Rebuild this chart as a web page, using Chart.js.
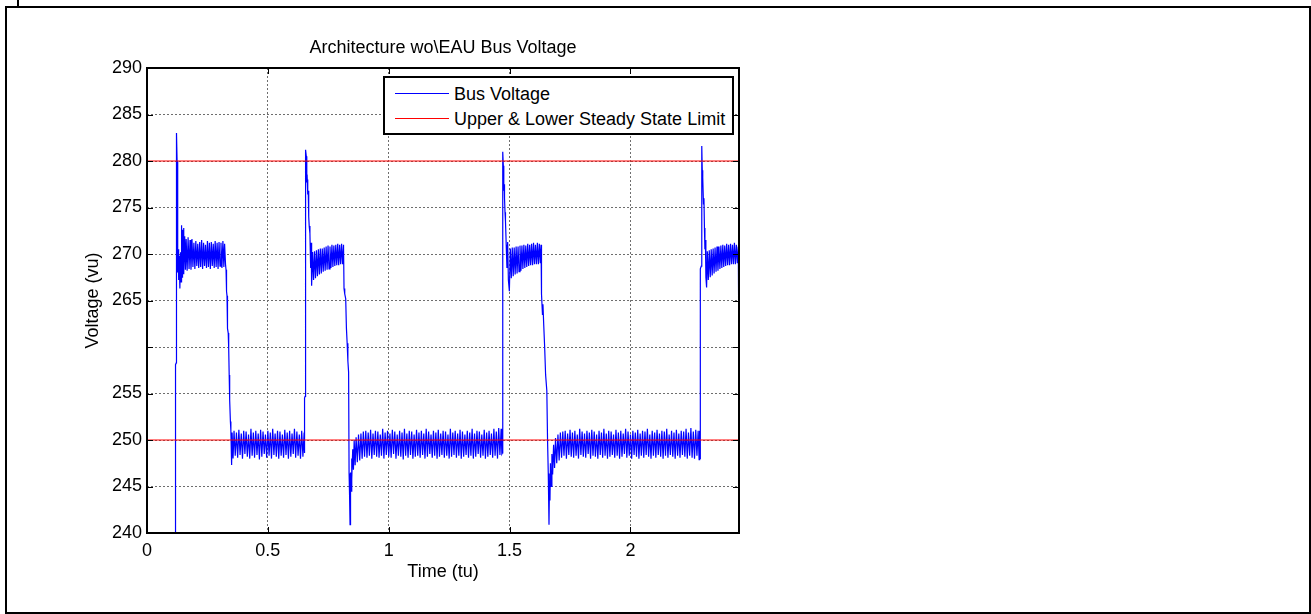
<!DOCTYPE html>
<html>
<head>
<meta charset="utf-8">
<script src="https://cdn.jsdelivr.net/npm/chart.js@4.4.0/dist/chart.umd.min.js"></script>
<style>
html,body{margin:0;padding:0;background:#fff;}
#wrap{position:relative;width:1311px;height:614px;overflow:hidden;background:#fff;}
#c{position:absolute;left:0;top:0;}
#frame{position:absolute;left:5px;top:6px;width:1306px;height:608px;border:2px solid #000;box-sizing:border-box;pointer-events:none;}
#tickmark{position:absolute;left:17px;top:0;width:2px;height:7px;background:#000;}
#legend{position:absolute;left:383px;top:76px;width:351px;height:59px;border:2px solid #000;box-sizing:border-box;background:#fff;font:18px "Liberation Sans",Arial,sans-serif;color:#000;}
.row{position:absolute;left:0;height:22px;line-height:22px;white-space:nowrap;width:100%;}
.sw{position:absolute;left:10px;width:54px;height:1px;top:10px;}
.lbl{position:absolute;left:69px;top:0;}
</style>
</head>
<body>
<div id="wrap">
  <canvas id="c" width="1311" height="614"></canvas>
  <div id="frame"></div>
  <div id="tickmark"></div>
  <div id="legend"></div>
</div>
<script>
// ---- data ----
const chartTitle = 'Architecture wo\\EAU Bus Voltage';
const xAxisTitle = 'Time (tu)';
const yAxisTitle = 'Voltage (vu)';
const seriesLabels = ['Bus Voltage', 'Upper & Lower Steady State Limit'];
const xRange = [0, 2.449];
const xTickValues = [0, 0.5, 1, 1.5, 2];
const xTickLabels = ['0', '0.5', '1', '1.5', '2'];
const yTickValues = [240, 245, 250, 255, 260, 265, 270, 275, 280, 285, 290];
const yTickLabels = ['240', '245', '250', '255', '', '265', '270', '275', '280', '285', '290'];
const limitUpper = 280;
const limitLower = 250;

// [time (tu), bus voltage (vu)]
const busVoltage = [
  [0,270],[0.001,230],[0.1175,230],[0.118,258.1],[0.121,258.3],[0.122,283.0],[0.1245,280.0],[0.127,268.0],
  [0.129,270.5],[0.131,267.2],[0.133,269.8],[0.136,266.3],[0.139,270.2],[0.141,267.0],[0.143,273.1],[0.145,267.5],
  [0.147,272.6],[0.149,267.9],[0.151,272.8],[0.153,268.0],[0.156,271.9],[0.159,268.3],[0.162,271.6],[0.166,268.2],
  [0.170,271.8],[0.174,268.4],[0.178,271.5],[0.182,268.3],[0.186,271.6],[0.190,268.6],[0.194,271.2],[0.198,268.4],
  [0.202,271.4],[0.206,268.7],[0.210,271.1],[0.214,268.5],[0.218,271.3],[0.222,268.6],[0.226,271.5],[0.230,268.4],
  [0.234,271.2],[0.238,268.7],[0.242,271.0],[0.246,268.5],[0.250,271.4],[0.254,268.6],[0.258,271.2],[0.262,268.4],
  [0.266,271.3],[0.270,268.7],[0.274,271.1],[0.278,268.5],[0.282,271.4],[0.286,268.6],[0.290,271.2],[0.294,268.4],
  [0.298,271.3],[0.302,268.7],[0.306,271.2],[0.310,268.5],[0.314,271.4],[0.318,268.6],[0.321,271.1],[0.325,268.8],
  [0.327,268.3],[0.329,266.0],[0.331,265.5],[0.333,262.0],[0.336,261.5],[0.338,259.8],[0.340,257.0],[0.342,254.3],
  [0.345,252.0],[0.347,251.0],[0.350,247.3],[0.352,250.8],[0.356,248.0],
  [0.360,251.0],[0.365,248.3],[0.370,250.8],[0.375,248.1],[0.380,251.1],[0.385,248.4],[0.390,250.7],[0.395,248.0],
  [0.400,251.0],[0.405,248.5],[0.410,250.9],[0.415,248.2],[0.420,250.6],[0.425,248.0],[0.430,251.2],[0.435,248.3],
  [0.440,250.8],[0.445,248.1],[0.450,251.0],[0.455,248.4],[0.460,250.7],[0.465,247.9],[0.470,251.1],[0.475,248.2],
  [0.480,250.9],[0.485,248.5],[0.490,250.6],[0.495,248.1],[0.500,251.0],[0.505,248.3],[0.510,250.8],[0.515,248.0],
  [0.520,251.2],[0.525,248.4],[0.530,250.7],[0.535,248.2],[0.540,251.0],[0.545,248.0],[0.550,250.9],[0.555,248.3],
  [0.560,250.6],[0.565,248.1],[0.570,251.1],[0.575,248.4],[0.580,250.8],[0.585,248.0],[0.590,251.0],[0.595,248.2],
  [0.600,250.7],[0.605,248.5],[0.610,251.2],[0.615,248.1],[0.620,250.9],[0.625,248.3],[0.630,250.6],[0.635,248.0],
  [0.640,251.0],[0.645,248.2],[0.650,250.8],[0.6515,248.6],
  [0.652,254.5],[0.654,254.7],[0.655,270.0],[0.657,281.2],[0.659,280.5],[0.661,277.7],[0.663,278.0],[0.665,276.4],
  [0.667,276.8],[0.669,274.0],[0.671,273.0],[0.674,272.2],[0.677,268.5],[0.679,271.2],[0.681,266.6],
  [0.685,270.2],[0.689,267.2],[0.693,270.3],[0.697,267.4],[0.701,270.4],[0.705,267.6],[0.709,270.5],[0.713,267.8],
  [0.717,270.6],[0.721,267.9],[0.725,270.6],[0.729,268.1],[0.733,270.7],[0.737,268.2],[0.741,270.8],[0.745,268.3],
  [0.749,270.9],[0.753,268.4],[0.757,270.8],[0.761,268.5],[0.765,271.0],[0.769,268.6],[0.773,270.9],[0.777,268.7],
  [0.781,271.0],[0.785,268.8],[0.789,271.1],[0.793,268.8],[0.797,271.0],[0.801,268.9],[0.805,271.1],[0.809,268.9],
  [0.813,271.0],
  [0.815,266.3],[0.818,265.7],[0.822,265.2],[0.825,262.0],[0.828,260.4],[0.831,258.5],[0.834,257.3],[0.836,246.4],
  [0.838,244.0],[0.840,240.9],[0.842,246.5],[0.844,244.5],[0.846,248.0],[0.848,245.8],[0.851,249.0],[0.854,246.8],
  [0.857,250.0],[0.861,247.3],[0.865,250.3],[0.870,247.6],[0.875,250.6],[0.880,247.8],
  [0.885,250.7],[0.890,248.0],[0.895,250.9],[0.900,248.2],[0.905,251.0],[0.910,248.1],[0.915,250.8],[0.920,248.3],
  [0.925,251.1],[0.930,248.0],[0.935,250.7],[0.940,248.4],[0.945,251.0],[0.950,248.2],[0.955,250.9],[0.960,248.1],
  [0.965,250.6],[0.970,248.3],[0.975,251.2],[0.980,248.0],[0.985,250.8],[0.990,248.4],[0.995,251.0],[1.000,248.2],
  [1.005,250.7],[1.010,248.1],[1.015,251.1],[1.020,248.5],[1.025,250.9],[1.030,248.0],[1.035,250.6],[1.040,248.3],
  [1.045,251.0],[1.050,248.2],[1.055,250.8],[1.060,247.9],[1.065,251.2],[1.070,248.3],[1.075,250.7],[1.080,248.1],
  [1.085,251.0],[1.090,248.4],[1.095,250.9],[1.100,248.0],[1.105,250.6],[1.110,248.2],[1.115,251.1],[1.120,248.3],
  [1.125,250.8],[1.130,248.1],[1.135,251.0],[1.140,248.4],[1.145,250.7],[1.150,248.0],[1.155,251.2],[1.160,248.2],
  [1.165,250.9],[1.170,248.5],[1.175,250.6],[1.180,248.1],[1.185,251.0],[1.190,248.3],[1.195,250.8],[1.200,248.0],
  [1.205,251.1],[1.210,248.2],[1.215,250.7],[1.220,248.4],[1.225,251.0],[1.230,248.1],[1.235,250.9],[1.240,248.3],
  [1.245,250.6],[1.250,248.0],[1.255,251.2],[1.260,248.2],[1.265,250.8],[1.270,248.4],[1.275,251.0],[1.280,248.1],
  [1.285,250.7],[1.290,248.3],[1.295,251.1],[1.300,248.0],[1.305,250.9],[1.310,248.2],[1.315,250.6],[1.320,248.4],
  [1.325,251.0],[1.330,248.1],[1.335,250.8],[1.340,248.3],[1.345,251.2],[1.350,248.0],[1.355,250.7],[1.360,248.2],
  [1.365,251.0],[1.370,248.5],[1.375,250.9],[1.380,248.1],[1.385,250.6],[1.390,248.3],[1.395,251.1],[1.400,248.0],
  [1.405,250.8],[1.410,248.2],[1.415,251.0],[1.420,248.4],[1.425,250.7],[1.430,248.1],[1.435,251.2],[1.440,248.3],
  [1.445,250.9],[1.450,248.0],[1.455,251.3],[1.460,248.4],[1.465,251.2],[1.468,248.5],
  [1.470,248.6],[1.4705,259.6],[1.472,259.8],[1.4725,281.0],[1.474,279.5],[1.476,276.8],[1.478,277.5],[1.479,276.0],
  [1.481,274.5],[1.483,273.5],[1.486,271.0],[1.489,268.5],[1.492,271.3],[1.495,267.2],[1.499,266.0],
  [1.503,270.6],[1.507,267.4],[1.511,270.7],[1.515,267.6],[1.519,270.7],[1.523,267.8],[1.527,270.8],[1.531,267.9],
  [1.535,270.8],[1.539,268.1],[1.543,270.9],[1.547,268.2],[1.551,270.9],[1.555,268.4],[1.559,271.0],[1.563,268.5],
  [1.567,270.9],[1.571,268.6],[1.575,271.1],[1.579,268.7],[1.583,271.0],[1.587,268.8],[1.591,271.1],[1.595,268.8],
  [1.599,271.2],[1.603,268.9],[1.607,271.0],[1.611,268.9],[1.615,271.2],[1.619,268.9],[1.623,271.1],[1.627,269.0],
  [1.630,271.0],
  [1.632,265.7],[1.636,263.5],[1.638,264.6],[1.641,262.5],[1.645,260.0],[1.649,257.0],[1.654,255.3],[1.657,250.0],
  [1.660,246.4],[1.663,240.9],[1.665,245.5],[1.667,243.5],[1.669,247.5],[1.672,245.0],[1.675,248.5],[1.678,246.3],
  [1.682,249.5],[1.686,247.0],[1.690,250.2],[1.695,247.5],[1.700,250.6],[1.705,247.8],
  [1.710,250.8],[1.715,248.1],[1.720,250.9],[1.725,248.3],[1.730,251.0],[1.735,248.0],[1.740,250.7],[1.745,248.4],
  [1.750,251.1],[1.755,248.2],[1.760,250.8],[1.765,248.1],[1.770,251.0],[1.775,248.3],[1.780,250.6],[1.785,248.0],
  [1.790,251.2],[1.795,248.4],[1.800,250.9],[1.805,248.2],[1.810,250.7],[1.815,248.1],[1.820,251.0],[1.825,248.5],
  [1.830,250.8],[1.835,248.0],[1.840,251.1],[1.845,248.3],[1.850,250.9],[1.855,248.2],[1.860,250.6],[1.865,248.0],
  [1.870,251.0],[1.875,248.4],[1.880,250.8],[1.885,248.1],[1.890,251.2],[1.895,248.3],[1.900,250.7],[1.905,248.0],
  [1.910,251.0],[1.915,248.2],[1.920,250.9],[1.925,248.4],[1.930,250.6],[1.935,248.1],[1.940,251.1],[1.945,248.3],
  [1.950,250.8],[1.955,248.0],[1.960,251.0],[1.965,248.2],[1.970,250.7],[1.975,248.5],[1.980,251.2],[1.985,248.1],
  [1.990,250.9],[1.995,248.3],[2.000,250.6],[2.005,248.0],[2.010,251.0],[2.015,248.4],[2.020,250.8],[2.025,248.2],
  [2.030,251.1],[2.035,248.0],[2.040,250.7],[2.045,248.3],[2.050,251.0],[2.055,248.1],[2.060,250.9],[2.065,248.4],
  [2.070,251.2],[2.075,248.2],[2.080,250.6],[2.085,248.0],[2.090,251.0],[2.095,248.3],[2.100,250.8],[2.105,248.1],
  [2.110,251.1],[2.115,248.4],[2.120,250.7],[2.125,248.2],[2.130,251.0],[2.135,248.0],[2.140,250.9],[2.145,248.3],
  [2.150,251.2],[2.155,248.1],[2.160,250.6],[2.165,248.4],[2.170,251.0],[2.175,248.2],[2.180,250.8],[2.185,248.0],
  [2.190,251.1],[2.195,248.3],[2.200,250.7],[2.205,248.1],[2.210,251.0],[2.215,248.4],[2.220,250.9],[2.225,248.2],
  [2.230,251.2],[2.235,248.0],[2.240,250.8],[2.245,248.3],[2.250,251.3],[2.255,248.1],[2.260,250.9],[2.265,248.0],
  [2.270,251.1],[2.275,248.3],[2.280,251.0],[2.284,247.9],[2.286,251.0],
  [2.288,248.0],[2.289,268.4],[2.293,268.7],[2.295,281.6],[2.297,279.0],[2.298,277.8],[2.300,278.2],[2.302,275.4],
  [2.304,276.0],[2.306,272.8],[2.308,270.5],[2.310,271.5],[2.312,267.5],[2.315,266.4],
  [2.318,270.3],[2.322,267.2],[2.326,270.4],[2.330,267.5],[2.334,270.5],[2.338,267.7],[2.342,270.6],[2.346,267.9],
  [2.350,270.7],[2.354,268.1],[2.358,270.8],[2.362,268.2],[2.366,270.8],[2.370,268.4],[2.374,270.9],[2.378,268.5],
  [2.382,271.0],[2.386,268.6],[2.390,270.9],[2.394,268.7],[2.398,271.1],[2.402,268.8],[2.406,271.0],[2.410,268.8],
  [2.414,271.1],[2.418,268.9],[2.422,271.0],[2.426,268.9],[2.430,271.2],[2.434,268.9],[2.438,271.0],[2.442,269.0],
  [2.446,270.8],[2.448,262.3]
];

// ---- styling ----
const FONT = { family: '"Liberation Sans", Arial, Helvetica, sans-serif', size: 18 };
const seriesColors = ['#0000ff', '#ff0000'];
const gridColor = '#6e6e6e';

const boxPlugin = {
  id: 'matlabBox',
  afterDatasetsDraw(chart) {
    const { ctx, chartArea: a, scales: { x, y } } = chart;
    ctx.save();
    ctx.strokeStyle = '#000';
    ctx.lineWidth = 1;
    ctx.beginPath();
    xTickValues.forEach(v => {
      const px = Math.round(x.getPixelForValue(v)) + 0.5;
      ctx.moveTo(px, a.bottom); ctx.lineTo(px, a.bottom - 6);
      ctx.moveTo(px, a.top); ctx.lineTo(px, a.top + 6);
    });
    yTickValues.forEach(v => {
      const py = Math.round(y.getPixelForValue(v)) + 0.5;
      ctx.moveTo(a.left, py); ctx.lineTo(a.left + 6, py);
      ctx.moveTo(a.right, py); ctx.lineTo(a.right - 6, py);
    });
    ctx.stroke();
    ctx.lineWidth = 2;
    ctx.strokeRect(a.left, a.top, a.right - a.left, a.bottom - a.top);
    ctx.restore();
  }
};

new Chart(document.getElementById('c'), {
  type: 'line',
  data: {
    datasets: [
      {
        label: seriesLabels[0],
        data: busVoltage.map(p => ({ x: p[0], y: p[1] })),
        borderColor: seriesColors[0], borderWidth: 1.2, pointRadius: 0, tension: 0, order: 2
      },
      {
        label: seriesLabels[1],
        data: [{ x: xRange[0], y: limitUpper }, { x: xRange[1], y: limitUpper }],
        borderColor: seriesColors[1], borderWidth: 1, pointRadius: 0, order: 1
      },
      {
        label: seriesLabels[1] + ' (lower)',
        data: [{ x: xRange[0], y: limitLower }, { x: xRange[1], y: limitLower }],
        borderColor: seriesColors[1], borderWidth: 1, pointRadius: 0, order: 1
      }
    ]
  },
  options: {
    responsive: false,
    animation: false,
    devicePixelRatio: 1,
    parsing: false,
    layout: { padding: { left: 80, right: 572, top: 0, bottom: 30 } },
    plugins: {
      legend: { display: false },
      tooltip: { enabled: false },
      title: {
        display: true, text: chartTitle, fullSize: false, color: '#000',
        font: { ...FONT, weight: 'normal' }, padding: { top: 37, bottom: 9.4 }
      }
    },
    scales: {
      x: {
        type: 'linear', min: xRange[0], max: xRange[1],
        afterBuildTicks: s => { s.ticks = xTickValues.map(v => ({ value: v })); },
        afterFit: s => { s.height = 51; },
        ticks: { callback: (v, i) => xTickLabels[i], font: FONT, color: '#000', padding: 7, maxRotation: 0, autoSkip: false },
        grid: { color: gridColor, drawTicks: false, lineWidth: 1 },
        border: { display: false, dash: [2, 2] },
        title: { display: true, text: xAxisTitle, font: FONT, color: '#000', padding: { top: 0, bottom: 1 } }
      },
      y: {
        type: 'linear', min: 240, max: 290,
        afterBuildTicks: s => { s.ticks = yTickValues.map(v => ({ value: v })); },
        afterFit: s => { s.width = 67; },
        ticks: { callback: (v, i) => yTickLabels[i], font: FONT, color: '#000', padding: 5, autoSkip: false },
        grid: { color: gridColor, drawTicks: false, lineWidth: 1 },
        border: { display: false, dash: [2, 2] },
        title: { display: true, text: yAxisTitle, font: FONT, color: '#000', padding: { top: 2, bottom: 0 } }
      }
    }
  },
  plugins: [boxPlugin]
});

// HTML legend (real text) built from the series labels/colours
const legend = document.getElementById('legend');
[0, 1].forEach(i => {
  const row = document.createElement('div');
  row.className = 'row';
  row.style.top = (5 + i * 25) + 'px';
  const sw = document.createElement('div');
  sw.className = 'sw';
  sw.style.background = seriesColors[i];
  const lbl = document.createElement('span');
  lbl.className = 'lbl';
  lbl.textContent = seriesLabels[i];
  row.appendChild(sw); row.appendChild(lbl);
  legend.appendChild(row);
});
</script>
</body>
</html>
